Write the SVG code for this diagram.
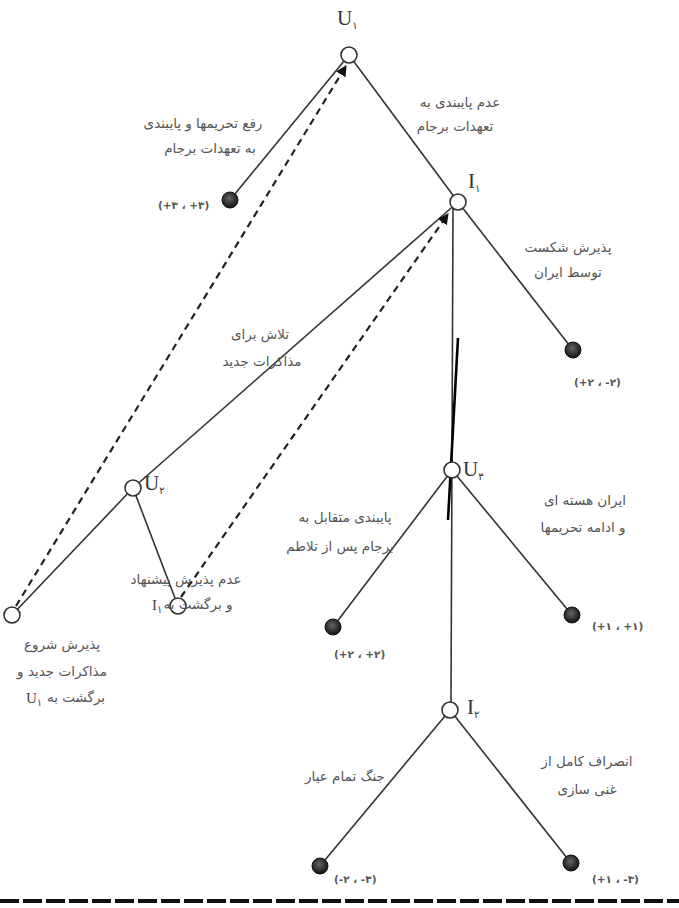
<svg xmlns="http://www.w3.org/2000/svg" width="679" height="908" viewBox="0 0 679 908">
<style>
.e{stroke:#333;stroke-width:1.6;fill:none}
.d{stroke:#222;stroke-width:2.2;fill:none;stroke-dasharray:7 5}
.o{fill:#fff;stroke:#333;stroke-width:1.6}
.t{fill:url(#g);stroke:#111;stroke-width:1}
.l{font-family:"DejaVu Sans",sans-serif;font-size:13.5px;fill:#555;text-anchor:middle;direction:rtl}
.p{font-family:"DejaVu Sans",sans-serif;font-size:10.5px;fill:#555;font-weight:bold}
.n{font-family:"Liberation Serif",serif;font-size:21px;fill:#333}
.m{font-family:"Liberation Serif",serif;font-size:15px;fill:#444}
.s{font-family:"DejaVu Sans",sans-serif;font-size:10px}
</style>
<defs>
<radialGradient id="g" cx="0.45" cy="0.4" r="0.6">
<stop offset="0" stop-color="#666"/>
<stop offset="1" stop-color="#111"/>
</radialGradient>
<marker id="a" viewBox="0 0 10 10" refX="9" refY="5" markerWidth="5" markerHeight="5" orient="auto">
<path d="M0,0 L10,5 L0,10 z" fill="#111"/>
</marker>
</defs>
<g id="connectors">
<line class="e" x1="349" y1="55" x2="230" y2="200"/>
<line class="e" x1="349" y1="55" x2="458" y2="202"/>
<line class="e" x1="458" y1="202" x2="573" y2="350"/>
<line class="e" x1="458" y1="202" x2="133" y2="488"/>
<line class="e" x1="453" y1="208" x2="451" y2="702"/>
<line stroke="#000" stroke-width="2.6" x1="458" y1="338" x2="448" y2="520"/>
<line class="e" x1="133" y1="488" x2="12" y2="615"/>
<line class="e" x1="133" y1="488" x2="178" y2="606"/>
<line class="e" x1="452" y1="470" x2="333" y2="627"/>
<line class="e" x1="452" y1="470" x2="572" y2="615"/>
<line class="e" x1="450" y1="710" x2="320" y2="866"/>
<line class="e" x1="450" y1="710" x2="571" y2="863"/>
<line class="d" x1="16" y1="606" x2="346" y2="66" marker-end="url(#a)"/>
<line class="d" x1="181" y1="597" x2="448" y2="214" marker-end="url(#a)"/>
<line stroke="#111" stroke-width="4" stroke-dasharray="19 4" x1="0" y1="901" x2="679" y2="901"/>
</g>
<g id="U1"><circle class="o" cx="349" cy="55" r="8"/><text class="n" x="337" y="25">U<tspan class="s" dy="4">۱</tspan></text></g>
<g id="I1"><circle class="o" cx="458" cy="202" r="8"/><text class="n" x="468" y="188">I<tspan class="s" dy="4">۱</tspan></text></g>
<g id="U2"><circle class="o" cx="133" cy="488" r="8"/><text class="n" x="144" y="490">U<tspan class="s" dy="4">۲</tspan></text></g>
<g id="U3"><circle class="o" cx="452" cy="470" r="8"/><text class="n" x="463" y="476">U<tspan class="s" dy="4">۳</tspan></text></g>
<g id="I2"><circle class="o" cx="450" cy="710" r="8"/><text class="n" x="467" y="714">I<tspan class="s" dy="4">۲</tspan></text></g>
<g id="N1"><circle class="o" cx="12" cy="615" r="8"/></g>
<g id="N2"><circle class="o" cx="178" cy="606" r="8"/></g>
<g id="T1"><circle class="t" cx="230" cy="200" r="8"/><text class="p" x="158" y="209" direction="ltr">(+۳ ، +۳)</text></g>
<g id="T2"><circle class="t" cx="573" cy="350" r="8"/><text class="p" x="574" y="386" direction="ltr">(+۲ ، -۲)</text></g>
<g id="T3"><circle class="t" cx="333" cy="627" r="8"/><text class="p" x="334" y="658" direction="ltr">(+۲ ، +۲)</text></g>
<g id="T4"><circle class="t" cx="572" cy="615" r="8"/><text class="p" x="592" y="630" direction="ltr">(+۱ ، +۱)</text></g>
<g id="T5"><circle class="t" cx="320" cy="866" r="8"/><text class="p" x="334" y="883" direction="ltr">(-۲ ، -۳)</text></g>
<g id="T6"><circle class="t" cx="571" cy="863" r="8"/><text class="p" x="592" y="883" direction="ltr">(+۱ ، -۳)</text></g>
<g id="labels">
<text class="l" x="460" y="107">عدم پایبندی به</text>
<text class="l" x="455" y="131">تعهدات برجام</text>
<text class="l" x="203" y="128">رفع تحریمها و پایبندی</text>
<text class="l" x="210" y="153">به تعهدات برجام</text>
<text class="l" x="568" y="252">پذیرش شکست</text>
<text class="l" x="568" y="277">توسط ایران</text>
<text class="l" x="260" y="339">تلاش برای</text>
<text class="l" x="262" y="366">مذاکرات جدید</text>
<text class="l" x="585" y="505">ایران هسته ای</text>
<text class="l" x="583" y="532">و ادامه تحریمها</text>
<text class="l" x="345" y="522">پایبندی متقابل به</text>
<text class="l" x="340" y="551">برجام پس از تلاطم</text>
<text class="l" x="186" y="584">عدم پذیرش پیشنهاد</text>
<text class="l" x="198" y="609">و برگشت به</text>
<text class="m" x="152" y="610">I<tspan class="s" dy="3">۱</tspan></text>
<text class="l" x="62" y="649">پذیرش شروع</text>
<text class="l" x="62" y="676">مذاکرات جدید و</text>
<text class="l" x="76" y="702">برگشت به</text>
<text class="m" x="26" y="703">U<tspan class="s" dy="3">۱</tspan></text>
<text class="l" x="345" y="781">جنگ تمام عیار</text>
<text class="l" x="587" y="766">انصراف کامل از</text>
<text class="l" x="587" y="794">غنی سازی</text>
</g>
</svg>
